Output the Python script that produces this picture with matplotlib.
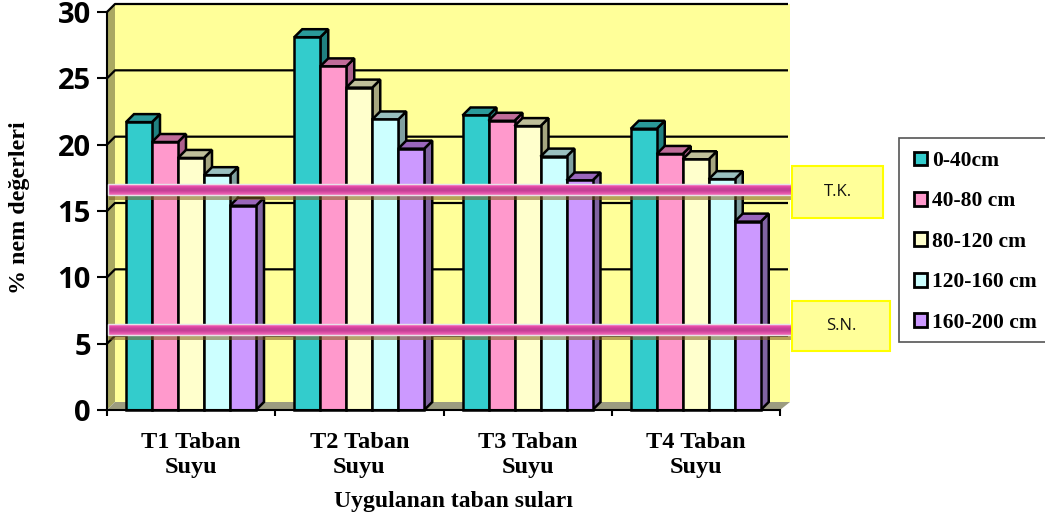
import numpy as np
import matplotlib
matplotlib.use('Agg')
import matplotlib.pyplot as plt
from matplotlib.patches import Rectangle, Patch
from matplotlib.colors import LinearSegmentedColormap

groups = ['T1 Taban\nSuyu', 'T2 Taban\nSuyu', 'T3 Taban\nSuyu', 'T4 Taban\nSuyu']
depths = ['0-40cm', '40-80 cm', '80-120 cm', '120-160 cm', '160-200 cm']
values_0_40 = [21.7, 28.1, 22.2, 21.2]
values_40_80 = [20.2, 25.9, 21.8, 19.3]
values_80_120 = [19.0, 24.3, 21.4, 18.9]
values_120_160 = [17.7, 21.9, 19.1, 17.4]
values_160_200 = [15.4, 19.7, 17.3, 14.2]
yticks = [0, 5, 10, 15, 20, 25, 30]
tk_level = 16.6
sn_level = 6.1

series = [values_0_40, values_40_80, values_80_120, values_120_160, values_160_200]
front = ['#33CCCC', '#FF99CC', '#FFFFCC', '#CCFFFF', '#CC99FF']
top = ['#2A9A9A', '#C06C99', '#BFBF99', '#99BFBF', '#9966BB']
side = ['#208080', '#AC5F8C', '#A6A680', '#80A0A0', '#8064A2']

W, H = 1045, 519
fig = plt.figure(figsize=(W / 100, H / 100), dpi=100)
fig.patch.set_facecolor('white')

# axes front plane, in pixels of the picture
left, right, y0, y30 = 107, 780, 410, 12
ax = fig.add_axes([left / W, 1 - y0 / H, (right - left) / W, (y0 - y30) / H])
ax.set_xlim(0, 4)
ax.set_ylim(0, 30)
ax.patch.set_visible(False)
px_x = 4 / (right - left)
px_y = 30 / (y0 - y30)
dx = 8 * px_x
dy = 8 * px_y
wall_right = 4 + 10 * px_x

serif = ['Liberation Serif', 'DejaVu Serif']
sans = ['Open Sans', 'DejaVu Sans']

# back wall, side wall, floor
ax.fill([dx, wall_right, wall_right, dx], [dy, dy, 30 + dy, 30 + dy],
        color='#FFFF99', zorder=1, clip_on=False, lw=0)
ax.fill([0, dx, dx, 0], [0, dy, 30 + dy, 30], color='#A9A862', zorder=1,
        clip_on=False, lw=0)
ax.fill([0, dx, wall_right, 4], [0, dy, dy, 0], color='#9C9C80', zorder=1,
        clip_on=False, lw=0)

for v in yticks[1:]:
    ax.plot([0, dx, wall_right - 2 * px_x], [v, v + dy, v + dy], color='black',
            lw=1.6, zorder=2, clip_on=False, solid_capstyle='butt')

# bars with fake depth
bar_w = 26 * px_x
start = 19 * px_x
for s, vals in enumerate(series):
    for g, v in enumerate(vals):
        x = g + start + s * bar_w
        z = 3 + g + s * 0.1
        ax.fill([x + bar_w, x + bar_w + dx, x + bar_w + dx, x + bar_w],
                [0, dy, v + dy, v], facecolor=side[s], edgecolor='black',
                lw=1.8, zorder=z, clip_on=False)
        ax.fill([x, x + dx, x + bar_w + dx, x + bar_w], [v, v + dy, v + dy, v],
                facecolor=top[s], edgecolor='black', lw=1.8, zorder=z,
                clip_on=False)
        ax.bar(x, v, bar_w, align='edge', color=front[s], edgecolor='black',
               lw=1.8, zorder=z + 0.01, clip_on=False)

# pink reference bands with shadow
band_cmap = LinearSegmentedColormap.from_list(
    'band', ['#FF80C8', '#E84CA8', '#C8409A', '#C24095', '#E050A8', '#F070B8'])
grad = np.linspace(0, 1, 32).reshape(-1, 1)
band_half = 5.5 * px_y
for level in [tk_level, sn_level]:
    ax.fill([2 * px_x, 685 * px_x, 685 * px_x, 2 * px_x],
            [level - band_half - 5 * px_y, level - band_half - 5 * px_y,
             level - band_half, level - band_half],
            color='#7A5A20', alpha=0.55, zorder=20, lw=0, clip_on=False)
    ax.imshow(grad, cmap=band_cmap, aspect='auto', zorder=21, clip_on=False,
              extent=[1 * px_x, 685 * px_x, level - band_half, level + band_half])
    ax.add_patch(Rectangle((1 * px_x, level - band_half), 684 * px_x, 2 * band_half,
                           fill=False, edgecolor='#E8E0E8', lw=1, zorder=22,
                           clip_on=False))
ax.set_xlim(0, 4)
ax.set_ylim(0, 30)

# axes
for name in ['top', 'right']:
    ax.spines[name].set_visible(False)
for name in ['left', 'bottom']:
    ax.spines[name].set_linewidth(1.5)
    ax.spines[name].set_zorder(19)
ax.set_yticks(yticks)
ax.set_yticklabels([str(v) for v in yticks], family=sans, fontweight='bold', fontsize=21)
ax.tick_params(axis='y', length=7.2, width=1.5, pad=4.3)
ax.set_xticks([0, 1, 2, 3, 4])
ax.set_xticklabels([])
ax.set_xticks([0.5, 1.5, 2.5, 3.5], minor=True)
ax.set_xticklabels(groups, minor=True, family=serif, fontweight='bold', fontsize=17.5,
                   linespacing=1.3)
ax.tick_params(axis='x', which='major', length=4.5, width=1.5)
ax.tick_params(axis='x', which='minor', length=0, pad=15.5)
fig.text(453 / W, 1 - 502 / H, 'Uygulanan taban suları', family=serif, fontweight='bold',
         fontsize=17, ha='center', va='center')
fig.text(20 / W, 1 - 208 / H, '% nem değerleri', family=serif, fontweight='bold',
         fontsize=17.3, ha='center', va='center', rotation=90)


def label_box(x0, y0_, x1, y1, text, cx, cy):
    fig.add_artist(Rectangle((x0 / W, 1 - y1 / H), (x1 - x0) / W, (y1 - y0_) / H,
                             transform=fig.transFigure, facecolor='#FFFF99',
                             edgecolor='#FFFF00', lw=1.5, zorder=30))
    fig.text(cx / W, 1 - cy / H, text, family=sans, fontsize=12, ha='center',
             va='center', color='#111111', zorder=31)


label_box(792, 166, 883, 218, 'T.K.', 838, 192)
label_box(792, 301, 890, 351, 'S.N.', 841, 326)

# legend
fig.add_artist(Rectangle((899 / W, 1 - 342 / H), 160 / W, 204 / H,
                         transform=fig.transFigure, facecolor='white',
                         edgecolor='#555555', lw=1.2, zorder=30))
handles = [Patch(facecolor=c, edgecolor='black', lw=2) for c in front]
leg = fig.legend(handles, depths, loc='upper left', bbox_to_anchor=(914 / W, 1 - 151 / H),
                 bbox_transform=fig.transFigure, frameon=False, borderpad=0,
                 borderaxespad=0, handlelength=0.6, handleheight=0.6, handletextpad=0.23,
                 labelspacing=0.95, prop={'family': serif, 'weight': 'bold', 'size': 15.5})
leg.set_zorder(32)

fig.savefig('out.png', dpi=100, facecolor='white')
